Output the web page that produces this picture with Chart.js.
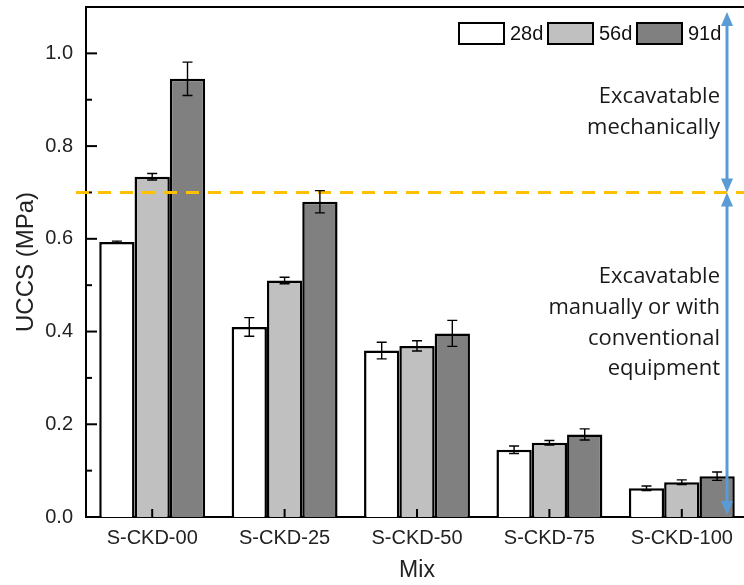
<!DOCTYPE html>
<html>
<head>
<meta charset="utf-8">
<script src="https://cdn.jsdelivr.net/npm/chart.js@4.4.0/dist/chart.umd.min.js"></script>
<style>
  html, body { margin: 0; padding: 0; background: #fff; overflow: hidden; }
  #wrap { width: 748px; height: 585px; }
</style>
</head>
<body>
<div id="wrap"><canvas id="chart"></canvas></div>
<script>
// data
const mixes = ['S-CKD-00', 'S-CKD-25', 'S-CKD-50', 'S-CKD-75', 'S-CKD-100'];
const ages = ['28d', '56d', '91d'];
const ucs28 = [0.593, 0.410, 0.359, 0.145, 0.062];
const ucs56 = [0.734, 0.510, 0.369, 0.160, 0.075];
const ucs91 = [0.945, 0.680, 0.396, 0.178, 0.088];
const err28 = [0.002, 0.020, 0.018, 0.008, 0.005];
const err56 = [0.007, 0.007, 0.011, 0.005, 0.005];
const err91 = [0.036, 0.024, 0.028, 0.012, 0.009];
const yTicks = [0.0, 0.2, 0.4, 0.6, 0.8, 1.0];
const yMinorTicks = [0.1, 0.3, 0.5, 0.7, 0.9];
const threshold = 0.7;
const upperNote = ['Excavatable', 'mechanically'];
const lowerNote = ['Excavatable', 'manually or with', 'conventional', 'equipment'];

const errors = [err28, err56, err91];
const fills = ['#ffffff', '#c0c0c0', '#808080'];
const BLUE = '#5b9bd5';

function arrowHead(ctx, x, y, dir) {
  // dir = -1 points up, 1 points down
  ctx.beginPath();
  ctx.moveTo(x, y);
  ctx.lineTo(x - 6, y - dir * 14);
  ctx.lineTo(x + 6, y - dir * 14);
  ctx.closePath();
  ctx.fill();
}

const decorations = {
  id: 'decorations',
  afterDatasetsDraw(chart) {
    const { ctx, chartArea: a, scales: { x, y } } = chart;
    ctx.save();

    // top frame line
    ctx.strokeStyle = '#000';
    ctx.lineWidth = 2;
    ctx.beginPath();
    ctx.moveTo(a.left - 1, a.top);
    ctx.lineTo(a.right, a.top);
    ctx.stroke();

    // inward ticks
    yTicks.forEach(v => {
      const py = y.getPixelForValue(v);
      ctx.beginPath(); ctx.moveTo(a.left, py); ctx.lineTo(a.left + 11, py); ctx.stroke();
    });
    yMinorTicks.forEach(v => {
      const py = y.getPixelForValue(v);
      ctx.beginPath(); ctx.moveTo(a.left, py); ctx.lineTo(a.left + 6, py); ctx.stroke();
    });
    mixes.forEach((m, i) => {
      const px = x.getPixelForValue(i);
      ctx.beginPath(); ctx.moveTo(px, a.bottom); ctx.lineTo(px, a.bottom - 8); ctx.stroke();
    });

    // threshold line
    const ty = y.getPixelForValue(threshold);
    ctx.strokeStyle = '#ffc000';
    ctx.lineWidth = 3;
    ctx.setLineDash([13, 9]);
    ctx.beginPath();
    ctx.moveTo(a.left - 10, ty);
    ctx.lineTo(a.right, ty);
    ctx.stroke();
    ctx.setLineDash([]);

    // error bars
    ctx.strokeStyle = '#000';
    ctx.lineWidth = 1.4;
    chart.data.datasets.forEach((ds, i) => {
      const meta = chart.getDatasetMeta(i);
      meta.data.forEach((bar, j) => {
        const e = errors[i][j];
        const hi = y.getPixelForValue(ds.data[j] + e);
        const lo = y.getPixelForValue(ds.data[j] - e);
        ctx.beginPath();
        ctx.moveTo(bar.x, hi); ctx.lineTo(bar.x, lo);
        ctx.moveTo(bar.x - 5, hi); ctx.lineTo(bar.x + 5, hi);
        ctx.moveTo(bar.x - 5, lo); ctx.lineTo(bar.x + 5, lo);
        ctx.stroke();
      });
    });

    // blue double arrows
    const ax = a.right - 21;
    ctx.strokeStyle = BLUE;
    ctx.fillStyle = BLUE;
    ctx.lineWidth = 3;
    const segs = [[a.top + 5, ty], [ty, a.bottom - 2]];
    segs.forEach(([t, b]) => {
      ctx.beginPath(); ctx.moveTo(ax, t + 10); ctx.lineTo(ax, b - 10); ctx.stroke();
      arrowHead(ctx, ax, t, -1);
      arrowHead(ctx, ax, b, 1);
    });

    // notes
    ctx.fillStyle = '#1a1a1a';
    ctx.font = '22px "Open Sans"';
    ctx.textAlign = 'right';
    ctx.textBaseline = 'middle';
    const tx = ax - 7;
    upperNote.forEach((s, k) => ctx.fillText(s, tx, 97 + k * 30.5));
    lowerNote.forEach((s, k) => ctx.fillText(s, tx, 277 + k * 30.7));

    // legend
    ctx.font = '20px "Liberation Sans", Arial';
    ctx.textAlign = 'left';
    let lx = 459;
    chart.data.datasets.forEach(ds => {
      ctx.fillStyle = ds.backgroundColor;
      ctx.fillRect(lx, 23, 45, 21);
      ctx.strokeStyle = '#000';
      ctx.lineWidth = 2;
      ctx.strokeRect(lx, 23, 45, 21);
      ctx.fillStyle = '#111';
      ctx.fillText(ds.label, lx + 51, 34);
      lx += 89;
    });
    ctx.restore();
  }
};

new Chart(document.getElementById('chart'), {
  type: 'bar',
  data: {
    labels: mixes,
    datasets: [ucs28, ucs56, ucs91].map((d, i) => ({
      label: ages[i],
      data: d,
      backgroundColor: fills[i],
      borderColor: '#000',
      borderWidth: 2.5,
      barPercentage: 1.0,
      categoryPercentage: 0.8
    }))
  },
  options: {
    responsive: true,
    maintainAspectRatio: false,
    animation: false,
    layout: { padding: { top: 7, right: 0, left: 0, bottom: 0 } },
    plugins: { legend: { display: false }, tooltip: { enabled: false } },
    scales: {
      x: {
        grid: { display: false, drawTicks: false },
        border: { display: true, color: '#000', width: 2 },
        ticks: { color: '#222', font: { family: '"Liberation Sans", Arial', size: 20 }, padding: 9, maxRotation: 0 },
        title: { display: true, text: 'Mix', color: '#222', font: { family: '"Liberation Sans", Arial', size: 23 }, padding: { top: 4, bottom: 1 } },
        afterFit(s) { s.height = 68; s.paddingLeft = 0; s.paddingRight = 0; }
      },
      y: {
        min: 0,
        max: 1.1,
        afterBuildTicks(s) { s.ticks = yTicks.map(v => ({ value: v })); },
        grid: { display: false, drawTicks: false },
        border: { display: true, color: '#000', width: 2 },
        ticks: { color: '#222', font: { family: '"Liberation Sans", Arial', size: 20 }, padding: 13, callback: v => v.toFixed(1) },
        title: { display: true, text: 'UCCS (MPa)', color: '#222', font: { family: '"Liberation Sans", Arial', size: 24 }, padding: { top: 12, bottom: 0 } },
        afterFit(s) { s.width = 86; s.paddingTop = 0; s.paddingBottom = 0; }
      }
    }
  },
  plugins: [decorations]
});
</script>
</body>
</html>
